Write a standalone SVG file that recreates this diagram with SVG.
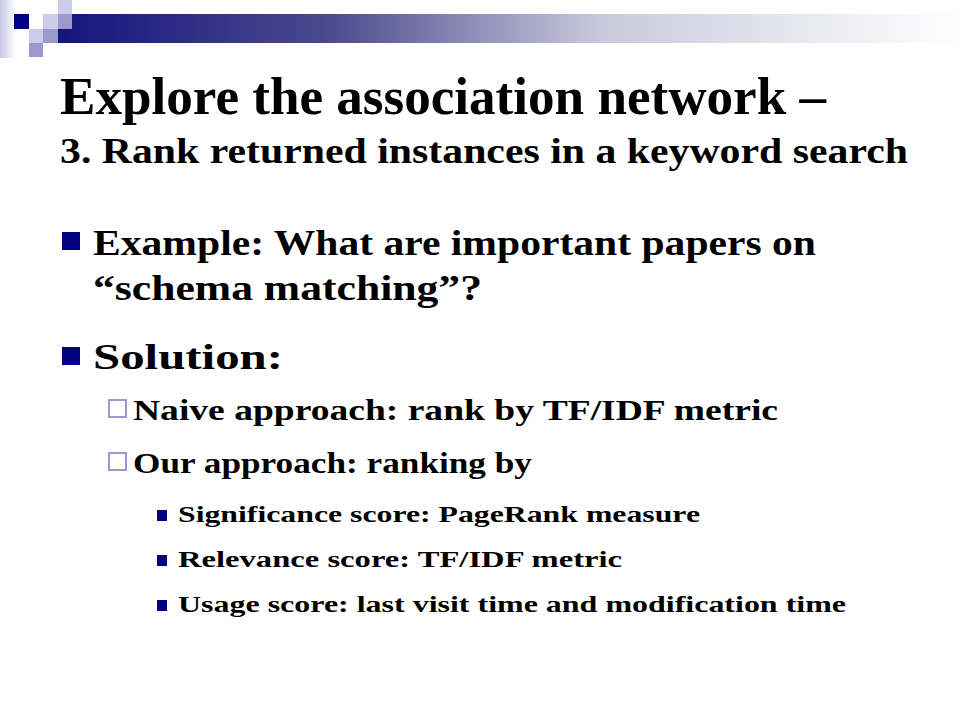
<svg xmlns="http://www.w3.org/2000/svg" width="960" height="720" viewBox="0 0 960 720">
<defs>
<linearGradient id="bar" x1="0" y1="0" x2="1" y2="0">
<stop offset="0" stop-color="#14147e"/>
<stop offset="0.3" stop-color="#4a4a8e"/>
<stop offset="0.6" stop-color="#c9c9dc"/>
<stop offset="1" stop-color="#ffffff"/>
</linearGradient>
<linearGradient id="strip" x1="0" y1="0" x2="1" y2="0">
<stop offset="0" stop-color="#c8c8e6"/>
<stop offset="1" stop-color="#ffffff"/>
</linearGradient>
<style>
text{font-family:"Liberation Serif","DejaVu Serif",serif;font-weight:bold;fill:#000}
.t1{font-size:52px}
.t2{font-size:35px}
.b1{font-size:36px}
.b2{font-size:30px}
.b3{font-size:24px}
.navy{fill:#000080}
.light{fill:#ccccea}
.mid{fill:#9999cc}
.hollow{fill:none;stroke:#9999cc;stroke-width:2}
</style>
</defs>
<rect width="960" height="720" fill="#fff"/>
<g id="header">
<rect x="0" y="0" width="16" height="58" fill="url(#strip)"/>
<rect x="58" y="14" width="902" height="29" fill="url(#bar)"/>
<rect class="navy" x="14" y="14" width="15" height="15"/>
<rect class="light" x="43" y="14" width="15" height="15"/>
<rect class="light" x="58" y="0" width="14" height="14"/>
<rect class="mid" x="58" y="14" width="14" height="15"/>
<rect class="light" x="29" y="29" width="14" height="14"/>
<rect class="mid" x="43" y="29" width="15" height="14"/>
<rect class="mid" x="29" y="43" width="14" height="14"/>
</g>
<g id="title">
<text class="t1" x="60" y="114" textLength="766" lengthAdjust="spacingAndGlyphs">Explore the association network –</text>
<text class="t2" x="60" y="163" textLength="848" lengthAdjust="spacingAndGlyphs">3. Rank returned instances in a keyword search</text>
</g>
<g id="bullet-example">
<rect class="navy" x="62" y="232" width="18" height="18"/>
<text class="b1" x="93" y="255" textLength="723" lengthAdjust="spacingAndGlyphs">Example: What are important papers on</text>
<text class="b1" x="93" y="300" textLength="389" lengthAdjust="spacingAndGlyphs">“schema matching”?</text>
</g>
<g id="bullet-solution">
<rect class="navy" x="62" y="347" width="18" height="18"/>
<text class="b1" x="93" y="369" textLength="190" lengthAdjust="spacingAndGlyphs">Solution:</text>
</g>
<g id="sub-naive">
<rect class="hollow" x="109" y="400" width="17" height="17"/>
<text class="b2" x="133" y="420" textLength="645" lengthAdjust="spacingAndGlyphs">Naive approach: rank by TF/IDF metric</text>
</g>
<g id="sub-our">
<rect class="hollow" x="109" y="453" width="17" height="17"/>
<text class="b2" x="133" y="473" textLength="399" lengthAdjust="spacingAndGlyphs">Our approach: ranking by</text>
</g>
<g id="item-significance">
<rect class="navy" x="157" y="510" width="10" height="11"/>
<text class="b3" x="178" y="522" textLength="522" lengthAdjust="spacingAndGlyphs">Significance score: PageRank measure</text>
</g>
<g id="item-relevance">
<rect class="navy" x="157" y="555" width="10" height="11"/>
<text class="b3" x="178" y="567" textLength="444" lengthAdjust="spacingAndGlyphs">Relevance score: TF/IDF metric</text>
</g>
<g id="item-usage">
<rect class="navy" x="157" y="600" width="10" height="11"/>
<text class="b3" x="178" y="612" textLength="668" lengthAdjust="spacingAndGlyphs">Usage score: last visit time and modification time</text>
</g>
<g id="connectors"/>
</svg>
